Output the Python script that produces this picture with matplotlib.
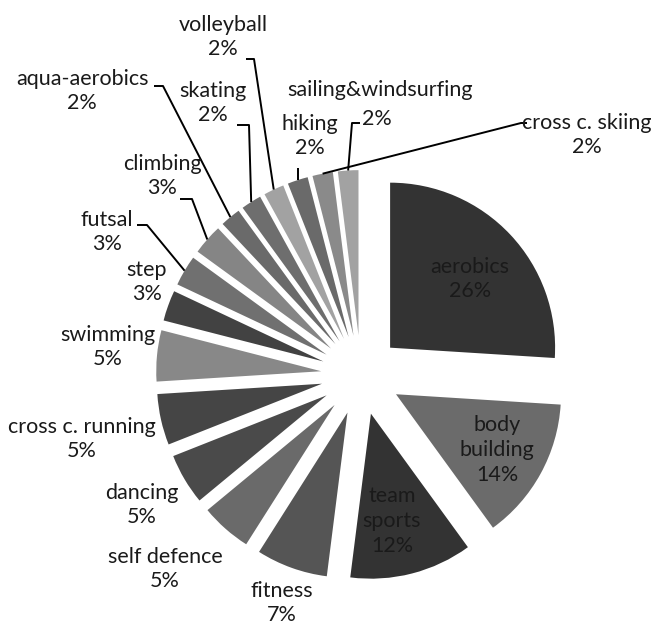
import numpy as np
import matplotlib.pyplot as plt

# sports share, clockwise from 12 o'clock
sports = ["aerobics", "body building", "team sports", "fitness", "self defence",
          "dancing", "cross c. running", "swimming", "step", "futsal", "climbing",
          "aqua-aerobics", "skating", "volleyball", "hiking", "cross c. skiing",
          "sailing&windsurfing"]
share = [26, 14, 12, 7, 5, 5, 5, 5, 3, 3, 3, 2, 2, 2, 2, 2, 2]
greys = ["#333333", "#6b6b6b", "#333333", "#555555", "#6a6a6a", "#4a4a4a",
         "#454545", "#888888", "#424242", "#707070", "#858585", "#6a6a6a",
         "#6e6e6e", "#a2a2a2", "#6a6a6a", "#8a8a8a", "#a2a2a2"]

W, H = 651, 625
R_PX = 165.0           # pie radius in pixels
CX, CY = 361.0, 375.0  # pie centre in pixels
EXPLODE = 0.242


def px(x, y):
    # pixel position -> data coords (1 data unit = pie radius)
    return (x - CX) / R_PX, (CY - y) / R_PX


fig = plt.figure(figsize=(W / 100, H / 100), dpi=100)
ax = fig.add_axes([0, 0, 1, 1])

wedges, _ = ax.pie(share, colors=greys, startangle=90, counterclock=False,
                   explode=[EXPLODE] * len(share), radius=1.0,
                   wedgeprops=dict(linewidth=0))

ax.set_xlim((0 - CX) / R_PX, (W - CX) / R_PX)
ax.set_ylim((CY - H) / R_PX, CY / R_PX)
ax.set_aspect("equal")
ax.axis("off")

font = dict(family=["Lato", "DejaVu Sans"], fontsize=15.5, color="#1a1a1a",
            ha="center", va="center", linespacing=1.3)

# label centres (px); labels inside the three big slices have three lines
label_pos = {
    "aerobics": (470, 279), "body building": (497, 450), "team sports": (392, 521),
    "fitness": (282, 603), "self defence": (165, 569), "dancing": (142, 505),
    "cross c. running": (82, 439), "swimming": (108, 347), "step": (147, 282),
    "futsal": (107, 232), "climbing": (162, 176), "aqua-aerobics": (82, 91),
    "skating": (213, 103), "volleyball": (223, 37), "hiking": (310, 136),
    "cross c. skiing": (587, 135), "sailing&windsurfing": (380, 90),
}
# leader lines: points (px) from the label towards the slice
leaders = {
    "climbing": [(180, 199), (192, 199)],
    "futsal": [(137, 225), (147, 225)],
    "aqua-aerobics": [(154, 86), (163, 86)],
    "skating": [(237, 125), (249, 125)],
    "volleyball": [(246, 59), (254, 59)],
    "hiking": [],
    "cross c. skiing": [(527, 123), (521, 123)],
    "sailing&windsurfing": [(360, 123), (352, 123)],
}

for name, val, w in zip(sports, share, wedges):
    text = f"{name}\n{val}%"
    if name == "body building":
        text = f"body\nbuilding\n{val}%"
    elif name == "team sports":
        text = f"team\nsports\n{val}%"
    elif name == "sailing&windsurfing":
        # percentage sits to the right of the leader corner
        x, y = px(*label_pos[name])
        ax.text(x, y, name, **font)
        x2, y2 = px(377, 119)
        ax.text(x2, y2, f"{val}%", **font)
        text = None
    if text is not None:
        x, y = px(*label_pos[name])
        ax.text(x, y, text, **font)

    if name in leaders:
        mid = np.deg2rad((w.theta1 + w.theta2) / 2)
        cx, cy = w.center
        end = (cx + np.cos(mid), cy + np.sin(mid))
        pts = [px(*p) for p in leaders[name]]
        if not pts:
            # short vertical tick just above the slice
            pts = [(end[0], end[1] + 12 / R_PX)]
        pts.append(end)
        xs, ys = zip(*pts)
        ax.plot(xs, ys, color="black", linewidth=1.4, solid_capstyle="butt")

fig.savefig("out.png", dpi=100, facecolor="white")
